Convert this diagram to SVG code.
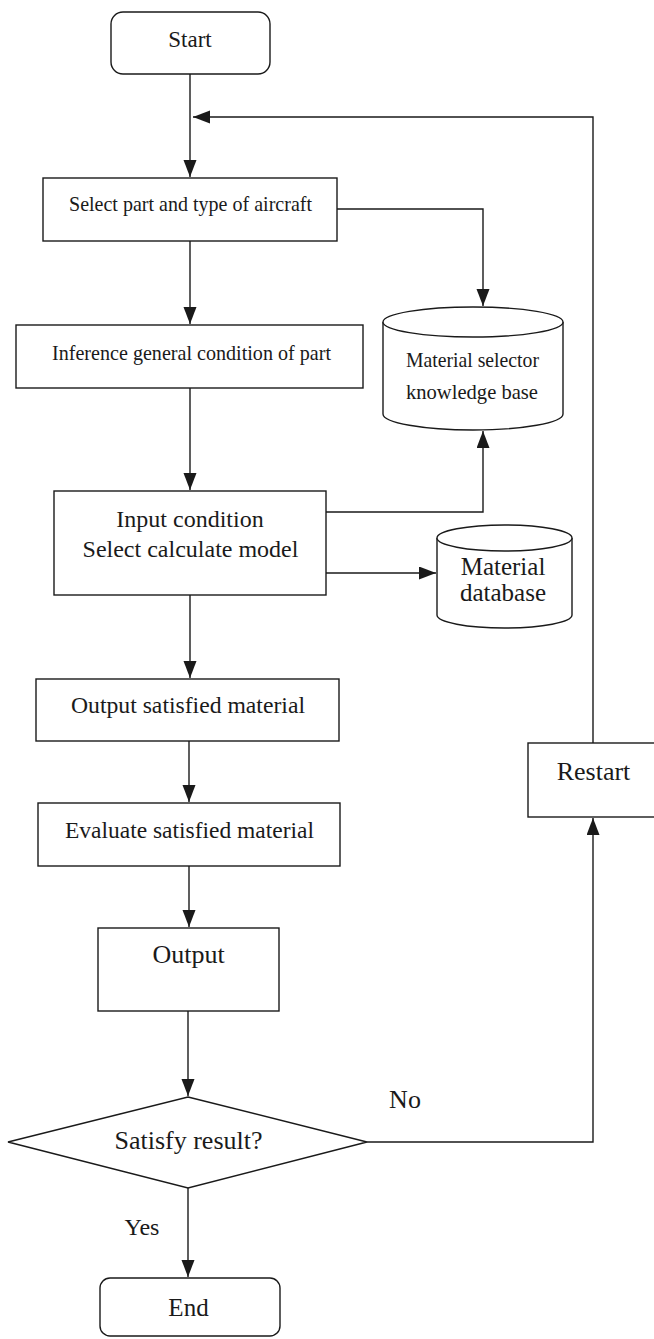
<svg xmlns="http://www.w3.org/2000/svg" width="654" height="1339" viewBox="0 0 654 1339">
<defs>
<style>
.n{fill:#fff;stroke:#1a1a1a;stroke-width:1.4}
.c{fill:none;stroke:#1a1a1a;stroke-width:1.4}
text{font-family:"Liberation Serif","Times New Roman",serif;fill:#1a1a1a;text-anchor:middle}
</style>
<marker id="ah" markerUnits="userSpaceOnUse" markerWidth="18" markerHeight="14" refX="17" refY="6.5" orient="auto">
<path d="M0,0 L17,6.5 L0,13 z" fill="#1a1a1a"/>
</marker>
</defs>
<rect width="654" height="1339" fill="#fff"/>
<g id="connectors">
<path class="c" d="M190,74 V177" marker-end="url(#ah)"/>
<path class="c" d="M593,743 V117 H193" marker-end="url(#ah)"/>
<path class="c" d="M190,241 V324" marker-end="url(#ah)"/>
<path class="c" d="M337,209 H483 V306" marker-end="url(#ah)"/>
<path class="c" d="M190,388 V490" marker-end="url(#ah)"/>
<path class="c" d="M326,512 H483 V431" marker-end="url(#ah)"/>
<path class="c" d="M326,573 H436" marker-end="url(#ah)"/>
<path class="c" d="M190,595 V678" marker-end="url(#ah)"/>
<path class="c" d="M189,741 V802" marker-end="url(#ah)"/>
<path class="c" d="M189,866 V927" marker-end="url(#ah)"/>
<path class="c" d="M188,1011 V1096" marker-end="url(#ah)"/>
<path class="c" d="M188,1188 V1277" marker-end="url(#ah)"/>
<path class="c" d="M367,1142 H593 V818" marker-end="url(#ah)"/>
<text x="405" y="1108" font-size="26">No</text>
<text x="142" y="1235" font-size="24">Yes</text>
</g>
<g id="start">
<rect class="n" x="111" y="12" width="159" height="62" rx="12"/>
<text x="190" y="47" font-size="23">Start</text>
</g>
<g id="select">
<rect class="n" x="43" y="178" width="294" height="63"/>
<text x="190.5" y="211" font-size="22" textLength="243" lengthAdjust="spacingAndGlyphs">Select part and type of aircraft</text>
</g>
<g id="inference">
<rect class="n" x="16" y="325" width="347" height="63"/>
<text x="191.5" y="360" font-size="22" textLength="279" lengthAdjust="spacingAndGlyphs">Inference general condition of part</text>
</g>
<g id="kb">
<path class="n" d="M383,322 V414 A90,16 0 0 0 563,414 V322"/>
<ellipse class="n" cx="473" cy="322" rx="90" ry="15"/>
<text x="472.5" y="367" font-size="22" textLength="133" lengthAdjust="spacingAndGlyphs">Material selector</text>
<text x="472" y="399" font-size="22" textLength="132" lengthAdjust="spacingAndGlyphs">knowledge base</text>
</g>
<g id="input">
<rect class="n" x="54" y="491" width="272" height="104"/>
<text x="190" y="527" font-size="24">Input condition</text>
<text x="190.5" y="557" font-size="24">Select calculate model</text>
</g>
<g id="db">
<path class="n" d="M437,538 V615 A67.5,13 0 0 0 572,615 V538"/>
<ellipse class="n" cx="504.5" cy="538" rx="67.5" ry="13"/>
<text x="503" y="575" font-size="25">Material</text>
<text x="503" y="601" font-size="25">database</text>
</g>
<g id="outsat">
<rect class="n" x="36" y="679" width="303" height="62"/>
<text x="188" y="713" font-size="24" textLength="234" lengthAdjust="spacingAndGlyphs">Output satisfied material</text>
</g>
<g id="evaluate">
<rect class="n" x="38" y="803" width="302" height="63"/>
<text x="189.5" y="838" font-size="24" textLength="249" lengthAdjust="spacingAndGlyphs">Evaluate satisfied material</text>
</g>
<g id="output">
<rect class="n" x="98" y="928" width="181" height="83"/>
<text x="188.5" y="963" font-size="26">Output</text>
</g>
<g id="decision">
<polygon class="n" points="188,1097 367,1142 188,1188 8,1142"/>
<text x="188.5" y="1149" font-size="26">Satisfy result?</text>
</g>
<g id="restart">
<rect class="n" x="528" y="743" width="132" height="74"/>
<text x="593.5" y="780" font-size="26">Restart</text>
</g>
<g id="end">
<rect class="n" x="100" y="1278" width="180" height="58" rx="10"/>
<text x="188.5" y="1316" font-size="25">End</text>
</g>
</svg>
